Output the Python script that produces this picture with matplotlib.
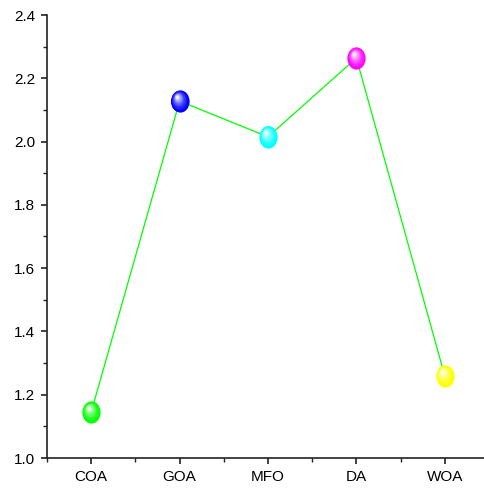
import numpy as np
import matplotlib.pyplot as plt
from matplotlib.path import Path
from matplotlib.transforms import offset_copy
from matplotlib.colors import to_rgb

# Data
algorithms = ['COA', 'GOA', 'MFO', 'DA', 'WOA']
values = [1.145, 2.128, 2.015, 2.264, 1.259]
colors = ['#00FF00', '#0000FF', '#00FFFF', '#FF00FF', '#FFFF00']

plt.rcParams['font.family'] = ['Liberation Sans', 'DejaVu Sans']

fig = plt.figure(figsize=(4.85, 4.91), dpi=100)
ax = fig.add_axes([47 / 485, 33 / 491, 442 / 485, 443 / 491])

x = np.arange(1, len(algorithms) + 1)
ax.plot(x, values, '-', color='#00FF00', lw=0.9, zorder=2)

# slightly tall ellipse marker
circ = Path.unit_circle()
ell = Path(circ.vertices * np.array([0.82, 1.0]), circ.codes)

# fake 3D sphere: stacked markers going lighter toward upper left
nsteps = 14
for i, (xi, yi, c) in enumerate(zip(x, values, colors)):
    base = np.array(to_rgb(c))
    for k in range(nsteps):
        t = k / (nsteps - 1)
        size = 16 * (1 - 0.85 * t)
        col = base + (1 - base) * (t ** 1.6) * 0.95
        tr = offset_copy(ax.transData, fig=fig, x=-2.5 * t, y=4.5 * t, units='dots')
        ax.plot(xi, yi, marker=ell, ms=size, color=col, mec='none',
                transform=tr, zorder=3 + k * 0.01)

ax.set_xlim(0.5, 5.5)
ax.set_ylim(1.0, 2.4)
ax.set_xticks(x)
ax.set_xticklabels(algorithms)
ax.set_xticks(np.arange(0.5, 5.6, 1.0), minor=True)
ax.set_yticks(np.arange(1.0, 2.41, 0.2))
ax.set_yticks(np.arange(1.0, 2.41, 0.1), minor=True)
ax.yaxis.set_major_formatter(plt.FormatStrFormatter('%.1f'))

ax.spines['top'].set_visible(False)
ax.spines['right'].set_visible(False)
for s in ['left', 'bottom']:
    ax.spines[s].set_linewidth(1.2)
    ax.spines[s].set_color('#222222')
ax.tick_params(which='major', direction='out', length=4.5, width=1.2,
               labelsize=11, color='#222222', pad=4)
ax.tick_params(which='minor', direction='out', length=3, width=1.0, color='#222222')

fig.savefig('out.png', dpi=100)
